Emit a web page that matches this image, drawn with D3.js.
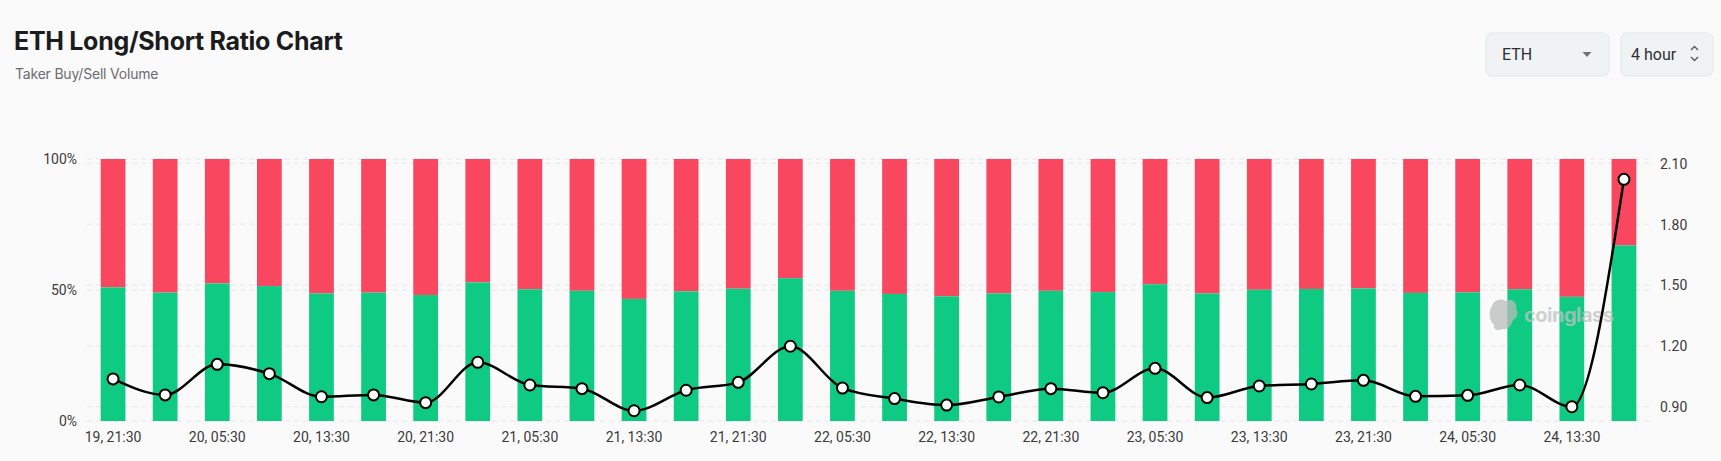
<!DOCTYPE html>
<html>
<head>
<meta charset="utf-8">
<script src="https://cdn.jsdelivr.net/npm/d3@7"></script>
<style>
    body { margin: 0; background: #fafafa; }
    svg { display: block; }
    .tick-label { font-family: Roboto, "Noto Sans", sans-serif; font-size: 14px; fill: #3a3a3a; }
</style>
</head>
<body>
<div id="chart"></div>
<script>
// data
const times = [
    "19, 21:30", "20, 01:30", "20, 05:30", "20, 09:30", "20, 13:30", "20, 17:30",
    "20, 21:30", "21, 01:30", "21, 05:30", "21, 09:30", "21, 13:30", "21, 17:30",
    "21, 21:30", "22, 01:30", "22, 05:30", "22, 09:30", "22, 13:30", "22, 17:30",
    "22, 21:30", "23, 01:30", "23, 05:30", "23, 09:30", "23, 13:30", "23, 17:30",
    "23, 21:30", "24, 01:30", "24, 05:30", "24, 09:30", "24, 13:30", "24, 17:30"
];
const longPct = [
    51.0, 49.0, 52.5, 51.5, 48.7, 49.0, 48.1, 52.9, 50.3, 49.7,
    46.6, 49.5, 50.5, 54.5, 49.7, 48.5, 47.6, 48.7, 49.7, 49.2,
    52.2, 48.7, 50.1, 50.4, 50.6, 48.9, 49.1, 50.3, 47.4, 67.0
];
const ratio = [
    1.037, 0.958, 1.109, 1.063, 0.949, 0.958, 0.920, 1.119, 1.007, 0.989,
    0.880, 0.981, 1.020, 1.198, 0.992, 0.940, 0.908, 0.948, 0.989, 0.969,
    1.089, 0.945, 1.002, 1.012, 1.030, 0.951, 0.956, 1.007, 0.900, 2.021
];
const pctTicks = [0, 50, 100];
const ratioTicks = [0.9, 1.2, 1.5, 1.8, 2.1];

const width = 1721, height = 461;
const plotLeft = 87, plotRight = 1650, plotTop = 159, plotBottom = 421;
const green = "#0fca82", red = "#f8475e";

const svg = d3.select("#chart").append("svg")
    .attr("width", width)
    .attr("height", height);

// header
svg.append("text")
    .attr("x", 14).attr("y", 50)
    .style("font-family", "Inter, 'Noto Sans', sans-serif")
    .style("font-size", "25px").style("font-weight", 700)
    .style("fill", "#1b1c1e")
    .style("letter-spacing", "-0.3px")
    .text("ETH Long/Short Ratio Chart");

svg.append("text")
    .attr("x", 15).attr("y", 79)
    .style("font-family", "Inter, 'Noto Sans', sans-serif")
    .style("font-size", "14px")
    .style("fill", "#6b6d70")
    .style("letter-spacing", "-0.2px")
    .text("Taker Buy/Sell Volume");

// selectors top right
function box(x, w) {
    svg.append("rect")
        .attr("x", x).attr("y", 33).attr("width", w).attr("height", 43)
        .attr("rx", 6)
        .attr("fill", "#f0f3f4")
        .attr("stroke", "#e2e7e9");
}
box(1486, 123);
box(1621, 92);

svg.append("text")
    .attr("x", 1502).attr("y", 60)
    .style("font-family", "Roboto, sans-serif").style("font-size", "16px")
    .style("fill", "#2e3033")
    .text("ETH");
svg.append("path")
    .attr("d", "M1582.5,52 L1591.5,52 L1587,57 Z")
    .attr("fill", "#6e7175");

svg.append("text")
    .attr("x", 1631).attr("y", 60)
    .style("font-family", "Roboto, sans-serif").style("font-size", "16px")
    .style("fill", "#2e3033")
    .text("4 hour");
svg.append("path")
    .attr("d", "M1691,50 L1694.5,46.5 L1698,50 M1691,57 L1694.5,60.5 L1698,57")
    .attr("fill", "none")
    .attr("stroke", "#55585c")
    .attr("stroke-width", 1.4);

// scales
const x = d3.scaleBand()
    .domain(times)
    .range([plotLeft, plotRight])
    .paddingInner(0.525)
    .paddingOuter(0.2625);

const yPct = d3.scaleLinear()
    .domain([0, 100])
    .range([plotBottom, plotTop]);

const yRatio = d3.scaleLinear()
    .domain([0.9, 2.1])
    .range([plotBottom - 14.3, plotTop + 4.3]);

// grid
const grid = svg.append("g").attr("class", "grid");
grid.selectAll(".grid-pct")
    .data(pctTicks)
    .join("line")
    .attr("x1", plotLeft).attr("x2", plotRight)
    .attr("y1", d => yPct(d)).attr("y2", d => yPct(d))
    .attr("stroke", "#e6e6e6")
    .attr("stroke-dasharray", "5,4");
grid.selectAll(".grid-ratio")
    .data(ratioTicks)
    .join("line")
    .attr("x1", plotLeft).attr("x2", plotRight)
    .attr("y1", d => yRatio(d)).attr("y2", d => yRatio(d))
    .attr("stroke", "#e6e6e6")
    .attr("stroke-dasharray", "5,4");

// axes
const leftAxis = svg.append("g")
    .attr("transform", `translate(${plotLeft - 10},0)`)
    .call(d3.axisLeft(yPct).tickValues(pctTicks).tickFormat(d => d + "%").tickSize(0).tickPadding(0));
const rightAxis = svg.append("g")
    .attr("transform", `translate(${plotRight + 10},0)`)
    .call(d3.axisRight(yRatio).tickValues(ratioTicks).tickFormat(d3.format(".2f")).tickSize(0).tickPadding(0));
const bottomAxis = svg.append("g")
    .attr("transform", `translate(0,${plotBottom + 9})`)
    .call(d3.axisBottom(x).tickValues(times.filter((d, i) => i % 2 === 0)).tickSize(0).tickPadding(0));

[leftAxis, rightAxis, bottomAxis].forEach(a => {
    a.select(".domain").remove();
    a.selectAll("text").attr("class", "tick-label").attr("fill", null);
});
leftAxis.selectAll("text").attr("dy", "0.35em");
rightAxis.selectAll("text").attr("dy", "0.35em");
bottomAxis.selectAll("text").attr("dy", "0.85em");

// bars
const bars = svg.append("g").attr("class", "bars");
bars.selectAll(".short")
    .data(longPct)
    .join("rect")
    .attr("x", (d, i) => x(times[i]))
    .attr("width", x.bandwidth())
    .attr("y", yPct(100))
    .attr("height", d => yPct(d) - yPct(100))
    .attr("fill", red);
bars.selectAll(".long")
    .data(longPct)
    .join("rect")
    .attr("x", (d, i) => x(times[i]))
    .attr("width", x.bandwidth())
    .attr("y", d => yPct(d))
    .attr("height", d => yPct(0) - yPct(d))
    .attr("fill", green);

// watermark
const wm = svg.append("g").attr("opacity", 0.75);
wm.append("path")
    .attr("d", "M1492,306 C1494,299 1502,298 1506,301 C1511,298 1518,302 1516,309 C1519,313 1517,318 1513,320 C1512,325 1508,330 1502,329 C1498,331 1493,330 1494,325 C1489,320 1488,312 1492,306 Z")
    .attr("fill", "#b9bdbb");
wm.append("text")
    .attr("x", 1524).attr("y", 322)
    .style("font-family", "Inter, 'Noto Sans', sans-serif")
    .style("font-size", "20px").style("font-weight", 700)
    .style("fill", "#bfc2c1")
    .style("letter-spacing", "-0.5px")
    .text("coinglass");

// ratio line
const line = d3.line()
    .x((d, i) => x(times[i]) + x.bandwidth() / 2)
    .y(d => yRatio(d))
    .curve(d3.curveMonotoneX);

svg.append("path")
    .datum(ratio)
    .attr("d", line)
    .attr("fill", "none")
    .attr("stroke", "#000")
    .attr("stroke-width", 2.5);

svg.append("g").selectAll("circle")
    .data(ratio)
    .join("circle")
    .attr("cx", (d, i) => x(times[i]) + x.bandwidth() / 2)
    .attr("cy", d => yRatio(d))
    .attr("r", 5.5)
    .attr("fill", "#fff")
    .attr("stroke", "#000")
    .attr("stroke-width", 2);
</script>
</body>
</html>
